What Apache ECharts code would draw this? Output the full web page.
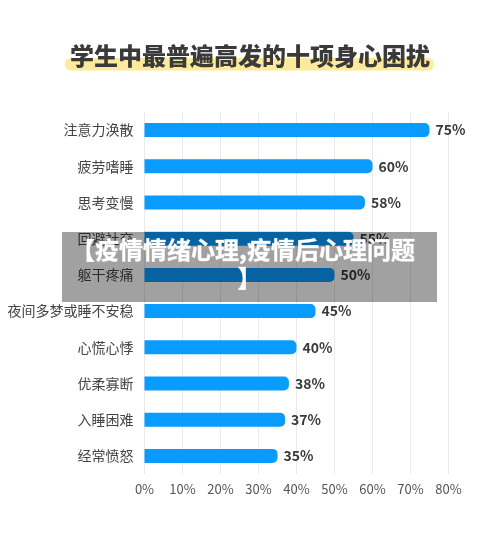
<!DOCTYPE html>
<html><head><meta charset="utf-8">
<style>html,body{margin:0;padding:0;background:#fff}#c{width:500px;height:535px}</style>
<script src="https://cdn.jsdelivr.net/npm/echarts@6/dist/echarts.min.js"></script>
</head><body><div id="c"></div>
<script>
const categories = ['注意力涣散','疲劳嗜睡','思考变慢','回避社交','躯干疼痛','夜间多梦或睡不安稳','心慌心悸','优柔寡断','入睡困难','经常愤怒'];
const values = [75,60,58,55,50,45,40,38,37,35];
const chartTitle = '学生中最普遍高发的十项身心困扰';
const overlayLines = ['【疫情情绪心理,疫情后心理问题','】'];
const font = '"Noto Sans CJK SC","Noto Sans",sans-serif';
const chart = echarts.init(document.getElementById('c'), null, {renderer:'canvas'});
chart.setOption({
  animation:false,
  backgroundColor:'#fff',
  title:{text:chartTitle,left:'center',top:42,padding:0,z:6,
    textStyle:{fontFamily:font,fontSize:24,fontWeight:900,color:'#3a3a3a',lineHeight:28}},
  grid:{left:144.5,right:51.5,top:112,bottom:61,containLabel:false},
  xAxis:{type:'value',min:0,max:80,interval:10,
    axisLine:{show:false},axisTick:{show:false},
    splitLine:{show:true,lineStyle:{color:'#e8eaed',width:1}},
    axisLabel:{formatter:'{value}%',fontFamily:font,fontSize:13,color:'#555',margin:9}},
  yAxis:{type:'category',inverse:true,data:categories,
    axisLine:{show:false},axisTick:{show:false},
    axisLabel:{fontFamily:font,fontSize:14,color:'#444',margin:11}},
  series:[{type:'bar',data:values,barWidth:14,
    itemStyle:{color:'#0a9bff',borderRadius:[0,5,5,0]},
    label:{show:true,position:'right',distance:6,formatter:'{c}%',fontFamily:font,fontSize:14,fontWeight:'bold',color:'#3a3a3a'}}],
  graphic:[
    {type:'rect',z:1,shape:{x:65,y:58,width:369,height:12.5,r:6},style:{fill:'#fdeb9b'}},
    {type:'rect',z:100,shape:{x:62,y:232,width:375,height:70},style:{fill:'rgba(0,0,0,0.37)'}},
    {type:'text',z:101,x:243,y:238,style:{text:overlayLines[0],fill:'#fff',font:'bold 24px '+font,textAlign:'center',
      stroke:'rgba(255,255,255,0.6)',lineWidth:0.6}},
    {type:'text',z:101,x:249.5,y:266,style:{text:overlayLines[1],fill:'#fff',font:'bold 24px '+font,textAlign:'center',
      stroke:'rgba(255,255,255,0.6)',lineWidth:0.6}}
  ]
});
</script></body></html>
